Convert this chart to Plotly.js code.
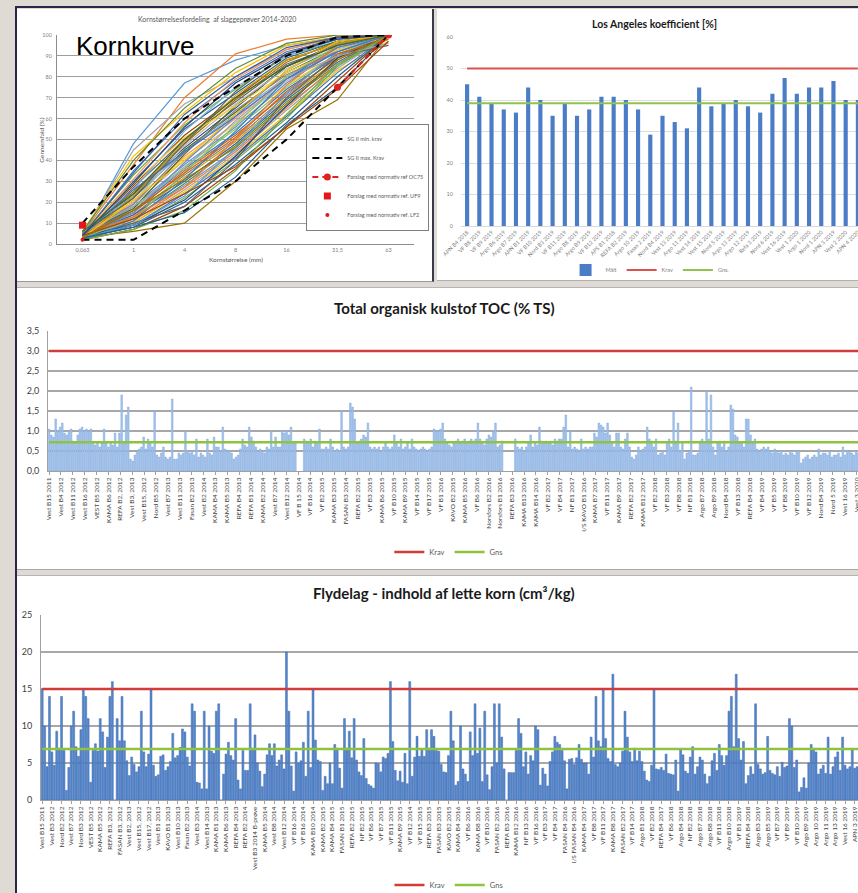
<!DOCTYPE html>
<html><head><meta charset="utf-8">
<script src="https://cdn.plot.ly/plotly-3.0.1.min.js"></script>
<style>
html,body{margin:0;padding:0;width:858px;height:893px;overflow:hidden;background:#dfdbd4;}
.panel{position:absolute;background:#fff;overflow:hidden;}
.plot{position:absolute;left:0;top:0;}
#frame{position:absolute;left:15px;top:6px;width:900px;height:900px;border-left:2px solid #2e2448;border-top:2px solid #2e2448;}
</style></head><body>
<div id="frame"></div>
<div class="panel" style="left:17px;top:9px;width:415px;height:272px;border-right:2px solid #363b4a;border-bottom:1px solid #9a9a9a"><div id="p1" class="plot"></div></div>
<div class="panel" style="left:437px;top:9px;width:450px;height:271px;border-bottom:1px solid #b0b0b0"><div id="p2" class="plot"></div></div>
<div class="panel" style="left:17px;top:287px;width:900px;height:281px;border-top:1px solid #b5b5b5;border-bottom:1px solid #a8a8a8"><div id="p3" class="plot"></div></div>
<div class="panel" style="left:17px;top:575px;width:900px;height:330px;border-top:1px solid #b5b5b5"><div id="p4" class="plot"></div></div>
<script>
// ---------------- DATA ----------------
const kornCats = ['0,063','1','4','8','16','31,5','63'];
const kornSamples = [
 [4,48,77,88,95,99,100],[5,38,70,91,98,100,100],[5,45,67,80,93,99,100],[6,42,63,82,95,99,100],
 [4,35,60,78,92,98,100],[5,33,57,74,90,97,100],[3,30,55,72,89,97,100],[4,28,52,70,88,96,100],
 [3,27,50,68,86,95,100],[5,25,48,69,87,97,100],[4,24,46,65,85,96,100],[3,22,45,63,82,94,100],
 [6,23,44,62,80,93,100],[4,20,42,60,80,94,100],[3,19,40,58,78,92,100],[5,21,41,57,76,91,99],
 [4,18,38,56,77,93,100],[3,17,37,55,75,91,100],[5,16,36,53,74,90,100],[4,15,35,52,72,89,100],
 [3,14,33,50,71,90,100],[2,13,32,49,70,88,100],[4,14,30,48,69,87,100],[3,12,29,47,68,86,100],
 [5,13,28,45,66,85,100],[3,11,27,44,65,86,98],[4,10,26,43,64,84,100],[3,10,25,42,62,83,97],
 [2,9,24,41,61,82,100],[3,8,22,40,60,85,100],[3,8,20,38,58,80,100],[2,7,18,36,56,78,100],
 [3,10,18,40,70,90,95],[3,6,10,30,55,69,100],[4,9,21,42,66,89,100],[5,17,43,66,85,95,100],
 [6,26,54,75,90,98,100],[4,31,58,79,93,99,100],[3,20,47,67,84,94,100],[5,29,51,66,82,93,99],
 [4,15,39,61,83,96,100],[3,12,34,57,80,95,100],[2,11,31,54,79,94,100],[4,16,34,51,73,91,98],
 [5,19,44,64,81,92,100],[3,23,49,71,88,96,100],[4,34,62,80,94,99,100],[6,40,65,84,96,100,100],
 [3,9,23,46,72,92,100],[4,13,27,50,76,95,100],[5,18,36,59,79,90,96],[3,21,40,62,83,97,100],
 [4,26,44,61,79,92,100],[2,7,16,35,62,86,100],[3,8,15,32,57,75,100],[4,12,24,37,56,74,97],
 [5,22,48,73,91,99,100],[3,16,31,46,67,88,100],[4,29,56,77,91,98,100],[6,24,50,70,85,95,100]
];
const sgMin = [2,2,16,30,50,75,100];
const sgMax = [10,37,60,75,90,99,100];
const oc75Cats = ['31,5','63']; const oc75 = [75,100];
const uf9Cats = ['0,063']; const uf9 = [9];
const lf2Cats = ['0,063']; const lf2 = [2];

const laLabels = ['APN B4 2018','VF B8 2019','VF B9 2019','Argo B6 2019','Argo B7 2019','APN B1 2019','VF B10 2019','Nord B3 2019','VF B11 2019','Argo B8 2019','Argo B9 2019','VF B12 2019','APS B1 2018','REFA B2 2019','Argo 10 2019','Fasan 2 2019','Nord B4 2019','Vest 13 2019','Argo 11 2019','Vest 14 2019','Vest 15 2019','Nord 5 2019','Argo 13 2019','Argo 12 2019','Refa 3 2019','Nord 6 2019','Vest 16 2019','Vest 1 2020','Argo 1 2020','Nord 1 2020','APN 3 2019','Vest 2 2020','APN 4 2020'];
const laValues = [45,41,39,37,36,44,40,35,39,35,37,41,41,40,37,29,35,33,31,44,38,39,40,38,36,42,47,42,44,44,46,40,40];
const laKrav = 50, laGns = 39;

const tocValues = [
 1.05,0.9,0.85,1.3,1.0,1.1,1.2,0.95,0.9,1.0, 1.05,0.75,0.7,0.9,1.05,1.1,1.0,1.05,1.0,1.05,
 0.7,0.65,0.7,0.6,0.7,1.05,0.7,0.6,0.7,0.65, 0.95,0.6,0.95,1.9,0.7,1.4,1.6,0.3,0.25,0.4,
 0.5,0.55,0.6,0.85,0.55,0.8,0.7,0.6,1.5,0.4, 0.35,0.45,0.6,0.35,0.3,0.35,1.8,0.3,0.3,0.45,
 0.4,0.45,1.0,0.5,0.45,0.5,0.4,0.8,0.35,0.45, 0.4,0.35,0.8,0.45,0.4,0.85,0.6,0.6,0.5,1.1,
 0.55,0.5,0.5,0.45,0.3,0.35,0.4,0.55,0.8,0.65, 0.6,1.1,0.85,0.75,0.6,0.5,0.55,0.5,0.45,0.6,
 0.55,1.0,0.6,0.85,0.6,0.6,1.0,0.95,1.0,0.9, 1.1,0.7,0.7,null,null,null,0.8,0.75,0.7,0.8,
 0.6,0.75,0.7,1.05,0.55,0.55,0.6,0.55,0.8,0.6, 0.5,0.55,0.5,1.5,0.6,0.55,0.6,1.7,1.6,1.3,
 0.7,0.75,0.8,0.9,0.85,1.2,0.6,0.55,0.6,0.55, 0.6,0.5,0.6,0.7,0.6,0.55,0.6,0.9,0.7,0.6,
 0.8,0.55,0.6,0.7,0.55,0.8,0.6,0.55,0.5,0.55, 0.6,0.55,0.5,0.55,0.6,1.05,1.0,1.0,1.05,1.2,
 0.8,0.7,0.65,0.6,0.7,0.75,0.8,0.7,0.75,0.8, 0.7,0.75,0.8,0.75,0.8,1.2,0.8,0.7,0.65,0.8,
 0.9,0.85,1.0,1.2,0.6,0.65,0.75,null,null,null, null,null,0.8,0.6,0.55,0.6,0.5,0.6,0.7,0.9,
 0.6,0.7,0.65,1.1,0.75,0.7,0.75,0.7,0.75,0.65, 0.8,0.75,0.8,0.8,1.1,1.4,0.6,1.0,0.55,0.6,
 0.55,0.5,0.8,0.55,0.6,0.55,0.6,0.6,0.95,0.85, 1.2,1.15,1.1,0.95,1.2,0.9,0.7,0.6,0.95,0.95,
 0.6,0.55,0.8,0.95,0.6,0.35,0.3,0.4,0.6,0.5, 0.55,0.6,1.1,0.8,0.75,0.6,0.8,0.4,0.45,0.5,
 0.4,0.7,0.8,0.6,1.5,0.75,1.2,0.5,0.7,0.3, 0.45,0.5,2.1,0.4,0.4,0.45,0.75,0.8,0.7,2.0,
 0.8,1.9,0.6,0.4,0.7,0.75,0.6,0.75,0.5,0.6, 1.65,1.55,0.9,0.85,0.7,0.7,0.6,1.3,1.3,0.9,
 0.7,0.8,0.55,0.5,0.55,0.6,0.55,0.6,0.5,0.45, 0.55,0.5,0.45,0.5,0.4,0.45,0.4,0.5,0.45,0.4,
 0.5,0.5,0.2,0.3,0.35,0.4,0.3,0.35,0.4,0.35, 0.55,0.4,0.45,0.45,0.4,0.5,0.35,0.4,0.4,0.45,
 0.35,0.6,0.4,0.5,0.5,0.45,0.4,0.5,0.45,0.6, 0.5,0.45
];
const tocLabels = ['Vest B15 2011','Vest B4 2012','Vest B11 2012','Vest B16 2012','VEST B5 2012','KAMA B6 2012','REFA B2, 2012','Vest B3, 2013','Vest B15, 2012','Nord B5 2012','Vest B7 2013','Vest B11 2013','Fasan B2 2013','Vest B2 2014','KAMA B4 2013','KAMA B5 2013','REFA B4 2013','REFA B1 2014','KAMA B2 2014','Vest B7 2014','Vest B12 2014','VF B 15 2014','VF B16 2014','VF B2 2015','KAMA B3 2015','FASAN B3 2014','REFA B2 2015','VF B3 2015','KAMA B6 2015','VF B10 2015','KAMA B9 2015','VF B14 2015','VF B17 2015','VF B1 2016','KAVO B2 2015','KAMA B5 2016','VF B6 2016','Norsfors B2 2016','Norsfors B1 2016','REFA B3 2016','KAMA B13 2016','KAMA B14 2016','VF B2 2017','VF B4 2017','NF B1 2017','I/S KAVO B1 2016','KAMA B7 2017','VF B11 2017','KAMA B9 2017','REFA B2 2017','KAMA B12 2017','VF B2 2018','VF B3 2018','VF B8 2018','NF B1 2018','Argo B7 2018','Argo B9 2018','Nord B4 2018','VF B13 2018','REFA B4 2018','VF B4 2019','VF B5 2019','VF B8 2019','VF B10 2019','VF B12 2019','Nord B4 2019','Nord 5 2019','Vest 16 2019','Vest 3 2020'];
const tocKrav = 3.0, tocGns = 0.72;

const flyValues = [
 15,10,4.5,14,6.5,4.7,9.3,7,14,6.7, 1.3,4.4,10,12,7.2,5.9,9.5,15,14,11,
 2.4,6.7,7.6,6.6,11,9.2,4.4,8.5,14,16, 0,11,8,14,8,5.3,3.3,5.8,4.8,3.8,
 4.5,12,6.5,4.5,6.2,15,4.7,3.2,3.4,5.9, 6.1,4,4.5,5.2,9,5.7,6,7.1,9.6,9.2,
 5.8,4.6,13,12,2.4,2.3,1.5,12,1.5,10, 6.6,6.3,12,13,0,3.5,6.2,7.8,6,5.4,
 11,2.7,1.5,6.7,4,4,13,7,8.8,5, 3.9,1.8,3.5,6.1,7.6,6,7.6,4.6,5.4,6.1,
 4.2,20,12,4.6,1.2,6.5,5,5.3,7.8,3.2, 12,4.4,15,8.1,5.4,5.2,1.3,3.2,2.2,5,
 2.2,7.5,7,4.3,1.6,11,7,9.3,5.7,11, 5.4,3.8,3.3,8.3,2.9,2.1,1.9,1.6,5,4.9,
 3.8,5.8,5.6,6.3,16,7.9,4,2.6,3.9,2.4, 6.3,2.2,16,3.2,5.8,8.6,5.9,6.8,5.9,9.5,
 7,9.5,8.6,6.7,6.6,4.8,3.8,3.7,6,12, 8,2,2.5,10,4.2,3.5,2.5,9.2,6,13,
 6.3,9.7,2.5,12,3.4,1.4,4.5,13,5,13, 8.5,4.2,0,3.7,3.7,3.7,6.7,11,9,4.5,
 6.5,3.5,6,5.3,10,9.5,2,4.3,3.5,1.9, 5.2,6.5,8.6,7.8,7.5,6.7,5.3,1.5,5.5,5.6,
 4.8,5.7,7.5,5.5,5,5,3.5,8.5,5.8,14, 8,7.2,15,8.3,5.6,5.2,17,4.8,4.5,5,
 6.6,12,8.5,6.5,5.2,7,5.3,6.6,5.2,3.9, 2.7,2.5,4.7,15,4.2,4.1,4.4,4,6.2,3.6,
 3.5,3.4,5.4,1.2,6.8,6.1,3.9,3.6,5.8,7.2, 3.5,4.5,5.8,5.4,3.5,2.2,3.2,5.3,6.3,4,
 7.5,6,4.7,6,12,14,7.2,17,8.3,5.4, 7.9,2.2,3.3,4.5,3.5,13,4.8,4.2,3.5,3.7,
 8.6,4,3.6,3.4,4.5,3.2,5.1,4.4,4.6,11, 10,4.4,5.4,1.1,1.7,3,1.6,5,7.5,7,
 6.5,3.5,4.2,4.7,3.6,8.5,3.5,4.5,5.8,6.5, 4,8.5,4.7,4.2,4.5,6.8,4.3,4.5,8.4,5.5,
 6.6,5
];
const flyLabels = ['Vest B15 2011','Vest B3 2012','Nord B2 2012','Vest B7 2012','Nord B3 2012','VEST B5 2012','KAMA B5 2012','REFA B3, 2012','FASAN B3, 2012','Vest B2, 2013','Vest B15, 2012','Vest B17, 2012','Vest B1 2013','KAVO B1 2013','Vest B10 2013','Fasan B2 2013','Vest B3 2014','Vest B14 2013','KAMA B1 2013','KAMA B6 2013','REFA B4 2013','REFA B2 2014','Vest B3 2014 B-prøve','KAMA B5 2014','Vest B8 2014','Vest B12 2014','VF B16 2014','VF B16 2014','KAMA B10 2014','KAMA B2 2015','KAMA B4 2015','FASAN B1 2015','REFA B2 2015','NF B2 2015','VF B6 2015','VF B7 2015','VF B11 2015','KAMA B9 2015','VF B12 2014','VF B15 2015','REFA B3 2015','FASAN B3 2015','KAVO B2 2015','KAMA B4 2016','VF B6 2016','KAMA B8 2016','VF B10 2016','FASAN B2 2016','REFA B3 2016','KAMA B12 2016','NF B13 2016','VF B16 2016','VF B3 2017','VF B4 2017','FASAN B4 2016','I/S FASAN B4 2016','KAMA B4 2017','VF B8 2017','VF B11 2017','KAMA B8 2017','FASAN B2 2017','VF B14 2017','Argo B1 2018','VF B2 2018','REFA B4 2017','VF B6 2018','Argo B4 2018','NF B2 2018','Argo B7 2018','Argo B8 2018','VF B11 2018','Argo B10 2018','VF B1 2019','REFA B4 2018','Argo B3 2019','Argo B5 2019','VF B7 2019','VF B9 2019','VF B10 2019','Argo B9 2019','Argo 10 2019','Argo 11 2019','Argo 13 2019','Vest 16 2019','APN 3 2019'];
const flyKrav = 15, flyGns = 6.9;

// ---------------- STYLE / HELPERS ----------------
const FONT = 'Lato, "Open Sans", sans-serif';
const CFG = {staticPlot:true, displayModeBar:false};
function pp(m, pw, ph, x, y){ return {x:(x-m.l)/pw, y:1-(y-m.t)/ph}; }
function ann(m,pw,ph,x,y,text,size,opts){
  const p = pp(m,pw,ph,x,y);
  return Object.assign({xref:'paper',yref:'paper',x:p.x,y:p.y,text:text,showarrow:false,
    font:{family:FONT,size:size,color:'#595959'},xanchor:'center',yanchor:'middle'},opts||{});
}
const palette = ['#5B9BD5','#ED7D31','#A5A5A5','#FFC000','#4472C4','#70AD47','#255E91','#9E480E','#636363','#997300','#264478','#43682B','#7CAFDD','#F1975A','#B7B7B7','#FFCD33','#698ED0','#8CC168','#327DC2','#D26012','#848484','#CC9A00','#3A5FA0','#5A8A39'];

// ---------------- P1 Kornkurve ----------------
(function(){
  const m = {l:40,r:3,t:26,b:37}, W=415, H=272, pw=W-m.l-m.r, ph=H-m.t-m.b;
  const traces = kornSamples.map((s,k)=>({type:'scatter',mode:'lines',x:kornCats,y:s,showlegend:false,
     line:{color:palette[k%palette.length],width:1.2},hoverinfo:'skip'}));
  traces.push({type:'scatter',mode:'lines',x:kornCats,y:sgMin,name:'SG II min. krav',line:{color:'#000',width:2,dash:'7px,5px'}});
  traces.push({type:'scatter',mode:'lines',x:kornCats,y:sgMax,name:'SG II max. Krav',line:{color:'#000',width:2,dash:'7px,5px'}});
  traces.push({type:'scatter',mode:'lines+markers',x:oc75Cats,y:oc75,name:'Forslag med normativ ref OC75',line:{color:'#e0211f',width:2,dash:'6px,4px'},marker:{color:'#e0211f',size:7,symbol:'circle'}});
  traces.push({type:'scatter',mode:'markers',x:uf9Cats,y:uf9,name:'Forslag med normativ ref. UF9',marker:{color:'#e8141c',size:7,symbol:'square'}});
  traces.push({type:'scatter',mode:'markers',x:lf2Cats,y:lf2,name:'Forslag med normativ ref. LF2',marker:{color:'#e8141c',size:4,symbol:'circle'}});
  const lp = pp(m,pw,ph,428,168);
  const layout = {width:W,height:H,margin:Object.assign({pad:0},m),paper_bgcolor:'rgba(0,0,0,0)',plot_bgcolor:'rgba(0,0,0,0)',
    font:{family:FONT,color:'#7f7f7f',size:6},
    xaxis:{type:'category',categoryarray:kornCats,range:[-0.5,6.5],showgrid:false,showline:true,linecolor:'#8c8c8c',ticks:'',tickfont:{size:5.5,color:'#7f7f7f'},zeroline:false},
    yaxis:{range:[0,100],dtick:10,showgrid:true,gridcolor:'#9e9e9e',gridwidth:1,showline:true,linecolor:'#8c8c8c',ticks:'outside',ticklen:3,tickcolor:'rgba(0,0,0,0)',tickfont:{size:5.5,color:'#7f7f7f'},zeroline:false},
    showlegend:true,
    legend:{x:lp.x,y:lp.y,xanchor:'right',yanchor:'middle',bgcolor:'#fff',bordercolor:'#7f7f7f',borderwidth:1,itemwidth:30,font:{size:5.5,color:'#595959',family:FONT},tracegroupgap:0},
    annotations:[
      ann(m,pw,ph,207,10,'Kornstørrelsesfordeling  af slaggeprøver 2014-2020',7),
      ann(m,pw,ph,58,37,'Kornkurve',26,{xanchor:'left',font:{family:'"Liberation Sans", Arial, sans-serif',size:26,color:'#000'}}),
      ann(m,pw,ph,23,131,'Gennemfald (%)',6.5,{textangle:-90}),
      ann(m,pw,ph,226,250,'Kornstørrelse (mm)',6.5)
    ]};
  Plotly.newPlot('p1',traces,layout,CFG);
})();

// ---------------- P2 Los Angeles ----------------
(function(){
  const m = {l:23.5,r:6,t:28,b:85}, pw=33*12.24, W=m.l+pw+m.r, H=302, ph=H-m.t-m.b;
  const last = laLabels.length-1;
  const traces = [
    {type:'bar',x:laLabels,y:laValues,name:'Målt',marker:{color:'#4a7dc6'}},
    {type:'scatter',mode:'lines',x:[laLabels[0],laLabels[last]],y:[laKrav,laKrav],name:'Krav',line:{color:'#d9544f',width:2}},
    {type:'scatter',mode:'lines',x:[laLabels[0],laLabels[last]],y:[laGns,laGns],name:'Gns.',line:{color:'#8fc44f',width:2}}
  ];
  const lp = pp(m,pw,ph,213,261);
  const layout = {width:W,height:H,margin:Object.assign({pad:0},m),paper_bgcolor:'rgba(0,0,0,0)',plot_bgcolor:'rgba(0,0,0,0)',
    font:{family:FONT,color:'#7f7f7f',size:6},bargap:0.66,
    xaxis:{type:'category',categoryarray:laLabels,range:[-0.5,last+0.5],tickangle:-45,tickfont:{size:5.5,color:'#7f7f7f'},showgrid:false,showline:true,linecolor:'#d9d9d9',ticks:'',zeroline:false},
    yaxis:{range:[0,60],dtick:10,gridcolor:'#dcdcdc',gridwidth:1,showline:false,zeroline:false,ticks:'outside',ticklen:6,tickcolor:'rgba(0,0,0,0)',tickfont:{size:5.5,color:'#7f7f7f'}},
    showlegend:true,
    legend:{orientation:'h',x:lp.x,y:lp.y,xanchor:'center',yanchor:'middle',itemwidth:30,font:{size:5.5,color:'#7f7f7f',family:FONT},bgcolor:'rgba(0,0,0,0)'},
    annotations:[ann(m,pw,ph,217,15,'<b>Los Angeles koefficient [%]</b>',10.5,{font:{family:FONT,size:10.5,color:'#1a1a1a'}})]
  };
  Plotly.newPlot('p2',traces,layout,CFG);
})();

// ---------------- P3 TOC ----------------
(function(){
  const N = tocValues.length;
  const m = {l:31,r:8,t:43,b:118}, pw=N*2.2, W=Math.round(m.l+pw+m.r), H=301, ph=H-m.t-m.b;
  const idx = tocValues.map((_,i)=>i);
  const step = 5.4;
  const traces = [
    {type:'bar',x:idx,y:tocValues,showlegend:false,marker:{color:'#a3c2ea',line:{color:'#82abe0',width:0.5}}},
    {type:'scatter',mode:'lines',x:[idx[0],idx[N-1]],y:[tocKrav,tocKrav],name:'Krav',line:{color:'#cf3c3a',width:2.5}},
    {type:'scatter',mode:'lines',x:[idx[0],idx[N-1]],y:[tocGns,tocGns],name:'Gns',line:{color:'#8dc33f',width:2.5}}
  ];
  const lp = pp(m,pw,ph,432,264);
  const layout = {width:W,height:H,margin:Object.assign({pad:0},m),paper_bgcolor:'rgba(0,0,0,0)',plot_bgcolor:'rgba(0,0,0,0)',
    separators:',.',font:{family:FONT,color:'#404040',size:8},bargap:0.25,
    xaxis:{range:[-0.5,N-0.5],tickvals:tocLabels.map((_,k)=>k*step),ticktext:tocLabels,tickangle:-90,tickfont:{size:6.5,color:'#404040'},
      showgrid:false,showline:true,linecolor:'#a0a0a0',ticks:'outside',ticklen:3,tickcolor:'#a0a0a0',zeroline:false},
    yaxis:{range:[0,3.5],dtick:0.5,tickformat:'.1f',gridcolor:'#a8a8a8',gridwidth:1.2,showline:true,linecolor:'#a0a0a0',zeroline:false,
      ticks:'outside',ticklen:6,tickcolor:'rgba(0,0,0,0)',tickfont:{size:9,color:'#404040'}},
    showlegend:true,
    legend:{orientation:'h',x:lp.x,y:lp.y,xanchor:'center',yanchor:'middle',itemwidth:30,font:{size:7.5,color:'#595959',family:FONT},bgcolor:'rgba(0,0,0,0)'},
    annotations:[ann(m,pw,ph,428,20,'<b>Total organisk kulstof TOC (% TS)</b>',15,{font:{family:FONT,size:15,color:'#1a1a1a'}})]
  };
  Plotly.newPlot('p3',traces,layout,CFG);
})();

// ---------------- P4 Flydelag ----------------
(function(){
  const N = flyValues.length;
  const m = {l:23.7,r:6,t:39,b:124}, pw=N*2.42, W=Math.round(m.l+pw+m.r), H=348, ph=H-m.t-m.b;
  const idx = flyValues.map((_,i)=>i);
  const traces = [
    {type:'bar',x:idx,y:flyValues,showlegend:false,marker:{color:'#5687cc',line:{color:'#3b68b0',width:0.5}}},
    {type:'scatter',mode:'lines',x:[idx[0],idx[N-1]],y:[flyKrav,flyKrav],name:'Krav',line:{color:'#cf3c3a',width:2.5}},
    {type:'scatter',mode:'lines',x:[idx[0],idx[N-1]],y:[flyGns,flyGns],name:'Gns',line:{color:'#8dc33f',width:2.5}}
  ];
  const lp = pp(m,pw,ph,432,309);
  const layout = {width:W,height:H,margin:Object.assign({pad:0},m),paper_bgcolor:'rgba(0,0,0,0)',plot_bgcolor:'rgba(0,0,0,0)',
    font:{family:FONT,color:'#404040',size:8},bargap:0.2,
    xaxis:{range:[-0.5,N-0.5],tickvals:flyLabels.map((_,k)=>k*4),ticktext:flyLabels,tickangle:-90,tickfont:{size:6.5,color:'#404040'},
      showgrid:false,showline:true,linecolor:'#a0a0a0',ticks:'outside',ticklen:3,tickcolor:'#a0a0a0',zeroline:false},
    yaxis:{range:[0,25],dtick:5,gridcolor:'#a8a8a8',gridwidth:1.2,showline:true,linecolor:'#a0a0a0',zeroline:false,
      ticks:'outside',ticklen:6,tickcolor:'rgba(0,0,0,0)',tickfont:{size:9,color:'#404040'}},
    showlegend:true,
    legend:{orientation:'h',x:lp.x,y:lp.y,xanchor:'center',yanchor:'middle',itemwidth:30,font:{size:7.5,color:'#595959',family:FONT},bgcolor:'rgba(0,0,0,0)'},
    annotations:[ann(m,pw,ph,427.5,17,'<b>Flydelag - indhold af lette korn (cm³/kg)</b>',15,{font:{family:FONT,size:15,color:'#1a1a1a'}})]
  };
  Plotly.newPlot('p4',traces,layout,CFG);
})();
</script>
</body></html>
